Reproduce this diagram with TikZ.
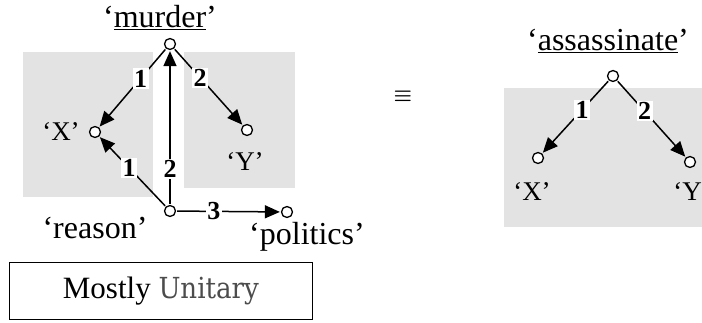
\documentclass[tikz,border=0pt]{standalone}
\usepackage{fontspec}
\setmainfont{Liberation Serif}
\newfontfamily\unifont{DejaVu Serif Condensed}
\usetikzlibrary{arrows.meta}
\definecolor{panel}{HTML}{E3E3E3}
\tikzset{
  pt/.style={circle,draw,line width=1.3pt,inner sep=0pt,minimum size=11pt,fill=white},
  big/.style={font=\fontsize{32}{34}\selectfont,inner sep=0pt},
  small/.style={font=\fontsize{27}{29}\selectfont,inner sep=0pt},
  num/.style={font=\fontsize{26}{28}\selectfont\bfseries,fill=white,inner sep=1.5pt},
  arc/.style={line width=1.5pt,-{Triangle[length=15pt,width=13pt]},shorten >=1pt,shorten <=1pt},
}
\begin{document}
\begin{tikzpicture}[x=1pt,y=-1pt]
\useasboundingbox (0,0) rectangle (702,323);
% panels
\fill[panel] (23,52) rectangle (153,197);
\fill[panel] (184,52) rectangle (295,188);
\fill[panel] (504,88) rectangle (710,227);
% nodes left
\node[pt] (m) at (170,44) {};
\node[pt] (x) at (95,132) {};
\node[pt] (y) at (247,130) {};
\node[pt] (r) at (170,211) {};
\node[pt] (p) at (287,212) {};
\node[big] (mt) at (160,18) {‘\underline{murder}’};
\node[small] (xt) at (61,132) {‘X’};
\node[small] (yt) at (245,162) {‘Y’};
\node[big] (rt) at (95,228) {‘reason’};
\node[big] (pt) at (307,237) {‘politics’};
% edges left
\draw[arc] (m) -- node[num,pos=0.38] {1} (x);
\draw[arc] (m) -- node[num,pos=0.38] {2} (y);
\draw[arc] (r) -- node[num,pos=0.55] {1} (x);
\draw[arc] (r) -- node[num,pos=0.23] {2} (m);
\draw[arc] (r) -- node[num,pos=0.36] {3} (p);
% equivalence
\node[font=\fontsize{22}{24}\selectfont\boldmath,inner sep=0pt] (eq) at (403,96) {$\equiv$};
% right
\node[pt] (a) at (613,76) {};
\node[pt] (x2) at (538,158) {};
\node[pt] (y2) at (690,162) {};
\node[big] (at) at (608,41) {‘\underline{assassinate}’};
\node[small] (x2t) at (532,192) {‘X’};
\node[small] (y2t) at (692,192) {‘Y’};
\draw[arc] (a) -- node[num,pos=0.4] {1} (x2);
\draw[arc] (a) -- node[num,pos=0.4] {2} (y2);
% box
\node[draw,line width=0.8pt,minimum width=303pt,minimum height=57pt,inner sep=0pt,anchor=north west] (box) at (9,262)
  {\fontsize{31}{33}\selectfont Mostly {\unifont\fontsize{29}{31}\selectfont\color{black!70}Unitary}};
\end{tikzpicture}
\end{document}
